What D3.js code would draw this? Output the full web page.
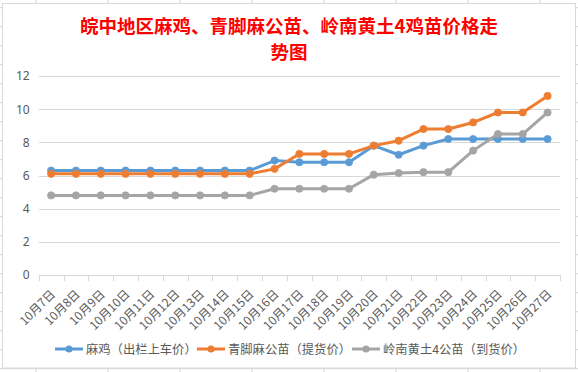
<!DOCTYPE html>
<html><head><meta charset="utf-8">
<script src="https://cdn.jsdelivr.net/npm/d3@7"></script>
<style>
html,body{margin:0;padding:0;background:#fff;}
svg{display:block;}
text{font-family:"Noto Sans CJK SC","Noto Sans",sans-serif;}
</style></head>
<body><svg id="c" width="578" height="372"></svg>
<script>
const categories = ["10月7日","10月8日","10月9日","10月10日","10月11日","10月12日","10月13日","10月14日","10月15日","10月16日","10月17日","10月18日","10月19日","10月20日","10月21日","10月22日","10月23日","10月24日","10月25日","10月26日","10月27日"];
const seriesNames = ["麻鸡（出栏上车价）","青脚麻公苗（提货价）","岭南黄土4公苗（到货价）"];
const maji    = [6.3,6.3,6.3,6.3,6.3,6.3,6.3,6.3,6.3,6.9,6.8,6.8,6.8,7.8,7.25,7.8,8.2,8.2,8.2,8.2,8.2];
const qingjiao= [6.1,6.1,6.1,6.1,6.1,6.1,6.1,6.1,6.1,6.4,7.3,7.3,7.3,7.8,8.1,8.8,8.8,9.2,9.8,9.8,10.8];
const lingnan = [4.8,4.8,4.8,4.8,4.8,4.8,4.8,4.8,4.8,5.2,5.2,5.2,5.2,6.05,6.15,6.2,6.2,7.5,8.5,8.5,9.8];
const yTicks = [0,2,4,6,8,10,12];
const titleLines = ["皖中地区麻鸡、青脚麻公苗、岭南黄土4鸡苗价格走","势图"];
const colors = ["#5B9BD5","#ED7D31","#A5A5A5"];
const series = [maji, qingjiao, lingnan];

const svg = d3.select("#c");

// spreadsheet background grid
const bg = svg.append("g");
for (let k=-1;k<20;k++){ const yy=26.7+19*k; bg.append("line").attr("x1",0).attr("x2",578).attr("y1",yy).attr("y2",yy).attr("stroke","#D4D4D4").attr("stroke-width",1); }
for (let k=0;k<8;k++){ const xx=36+72*k; bg.append("line").attr("x1",xx).attr("x2",xx).attr("y1",0).attr("y2",372).attr("stroke","#D4D4D4").attr("stroke-width",1); }

// chart area
svg.append("rect").attr("x",2.5).attr("y",3.5).attr("width",573).attr("height",364.5)
  .attr("fill","#fff").attr("stroke","#D9D9D9").attr("stroke-width",1);

// title
svg.append("g").selectAll("text").data(titleLines).join("text")
  .attr("x",289).attr("y",(d,i)=>25+26*i).attr("text-anchor","middle").attr("dominant-baseline","central")
  .attr("fill","#FF0000").attr("font-size",18.5).attr("font-weight","bold")
  .text(d=>d);

const x = d3.scaleBand().domain(categories).range([38.7,560]);
const y = d3.scaleLinear().domain([0,12]).range([275,76]);

// gridlines
svg.append("g").selectAll("line").data(yTicks.filter(d=>d>0)).join("line")
  .attr("x1",38.7).attr("x2",560).attr("y1",d=>Math.round(y(d))+0.5).attr("y2",d=>Math.round(y(d))+0.5)
  .attr("stroke","#D9D9D9").attr("stroke-width",1);

// y axis labels
const ya = svg.append("g").attr("transform","translate(38.7,0)")
  .call(d3.axisLeft(y).tickValues(yTicks).tickSize(0).tickPadding(9));
ya.select(".domain").remove();
ya.selectAll("text").attr("font-size",12).attr("fill","#595959").style("font-family","'Noto Sans','Open Sans',sans-serif");

// x axis
const xa = svg.append("g").attr("transform","translate(0,275.5)")
  .call(d3.axisBottom(x).tickSize(0).tickFormat(""));
xa.select(".domain").attr("stroke","#D9D9D9").attr("d","M38.7,0H560");
const bounds = categories.map(c=>x(c)).concat([x(categories[categories.length-1])+x.bandwidth()]);
svg.append("g").selectAll("line").data(bounds).join("line")
  .attr("x1",d=>Math.round(d)+0.5).attr("x2",d=>Math.round(d)+0.5).attr("y1",275).attr("y2",281)
  .attr("stroke","#D9D9D9").attr("stroke-width",1);
svg.append("g").selectAll("text").data(categories).join("text")
  .attr("transform",d=>`translate(${x(d)+x.bandwidth()/2+1},291) rotate(-45)`)
  .attr("text-anchor","end").attr("dominant-baseline","central")
  .attr("font-size",12).attr("fill","#595959").text(d=>d);

// lines
const line = d3.line().x((d,i)=>x(categories[i])+x.bandwidth()/2).y(d=>y(d));
series.forEach((s,si)=>{
  const g = svg.append("g");
  g.append("path").datum(s).attr("d",line).attr("fill","none").attr("stroke",colors[si])
    .attr("stroke-width",3).attr("stroke-linejoin","round").attr("stroke-linecap","round");
  g.selectAll("circle").data(s).join("circle")
    .attr("cx",(d,i)=>x(categories[i])+x.bandwidth()/2).attr("cy",d=>y(d)).attr("r",3.6)
    .attr("fill",colors[si]).attr("stroke",colors[si]).attr("stroke-width",0.8);
});

// legend
const legX = [55,197,352];
const lg = svg.append("g").selectAll("g").data(seriesNames).join("g")
  .attr("transform",(d,i)=>`translate(${legX[i]},349)`);
lg.append("line").attr("x1",0).attr("x2",28).attr("y1",0).attr("y2",0)
  .attr("stroke",(d,i)=>colors[i]).attr("stroke-width",3);
lg.append("circle").attr("cx",14).attr("cy",0).attr("r",3.6).attr("fill",(d,i)=>colors[i]);
lg.append("text").attr("x",31).attr("y",0).attr("dominant-baseline","central")
  .attr("font-size",12.3).attr("fill","#595959").text(d=>d);
</script></body></html>
